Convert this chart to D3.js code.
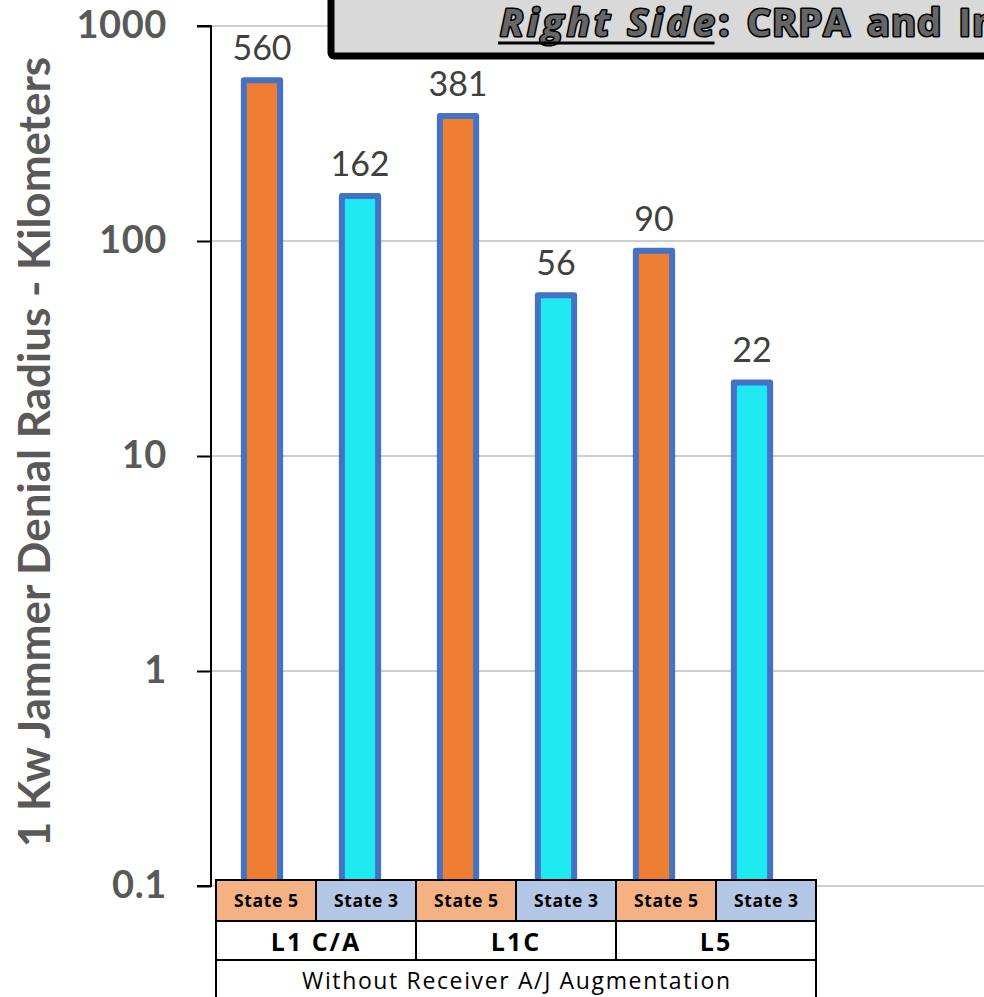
<!DOCTYPE html>
<html>
<head>
<meta charset="utf-8">
<script src="https://cdn.jsdelivr.net/npm/d3@7"></script>
<style>
  html, body { margin: 0; padding: 0; background: #fff; }
  svg { display: block; font-family: Lato, "Open Sans", sans-serif; }
</style>
</head>
<body>
<svg id="chart" width="984" height="997"></svg>
<script>
// Jammer denial radius by signal and jamming state (log scale, km)
const signals = ["L1 C/A", "L1C", "L5"];
const states = ["State 5", "State 3"];
const radiusKm = [560, 162, 381, 56, 90, 22];   // order: signal × state
const yTickValues = [0.1, 1, 10, 100, 1000];
const yTickLabels = ["0.1", "1", "10", "100", "1000"];
const groupLabel = "Without Receiver A/J Augmentation";
const yTitle = "1 Kw Jammer Denial Radius - Kilometers";
const titleItalic = "Right Side";
const titleRest = ": CRPA and Integrated Receiver A/J Augmentation";

const barIds = [];
signals.forEach(s => states.forEach(st => barIds.push(s + "|" + st)));
const barData = barIds.map((id, i) => ({ id, signal: id.split("|")[0], state: id.split("|")[1], value: radiusKm[i] }));

const svg = d3.select("#chart");

const y = d3.scaleLog().domain([0.1, 1000]).range([886, 26]);
const x = d3.scaleBand().domain(barIds).range([213, 801]).paddingInner(0.63).paddingOuter(0.315);
const tableX = d3.scaleBand().domain(barIds).range([216, 816]);
const axisX = 211;

// gridlines
svg.append("g")
  .selectAll("line")
  .data(yTickValues)
  .join("line")
  .attr("x1", axisX).attr("x2", 984)
  .attr("y1", d => y(d)).attr("y2", d => y(d))
  .attr("stroke", "#bfbfbf").attr("stroke-width", 1.5);

// y axis
const yAxis = svg.append("g")
  .attr("transform", `translate(${axisX},0)`)
  .call(d3.axisLeft(y).tickValues(yTickValues).tickSize(14).tickPadding(30)
    .tickFormat((d, i) => yTickLabels[i]));
yAxis.select(".domain").attr("stroke", "#000").attr("stroke-width", 2).attr("d", `M-14,${y(1000)}H0V${y(0.1)}H-14`);
yAxis.selectAll(".tick line").attr("stroke", "#000").attr("stroke-width", 2);
yAxis.selectAll(".tick text")
  .attr("fill", "#595959")
  .attr("font-size", 38).attr("font-weight", "bold")
  .attr("font-family", "Lato, sans-serif")
  .attr("letter-spacing", 0.6)
  .attr("dy", "0.29em");

// axis title
svg.append("text")
  .attr("transform", `translate(50,452) rotate(-90)`)
  .attr("text-anchor", "middle")
  .attr("fill", "#595959")
  .attr("font-size", 44).attr("font-weight", "bold")
  .text(yTitle);

// bars
svg.append("g")
  .selectAll("rect")
  .data(barData)
  .join("rect")
  .attr("x", d => x(d.id))
  .attr("y", d => y(d.value))
  .attr("width", x.bandwidth())
  .attr("height", d => y(0.1) - y(d.value))
  .attr("fill", d => d.state === "State 5" ? "#ed7d31" : "#1ee8f0")
  .attr("stroke", "#4472c4").attr("stroke-width", 6)
  .attr("stroke-linejoin", "round");

// value labels
svg.append("g")
  .selectAll("text")
  .data(barData)
  .join("text")
  .attr("x", d => x(d.id) + x.bandwidth() / 2)
  .attr("y", d => y(d.value) - 20)
  .attr("text-anchor", "middle")
  .attr("fill", "#404040")
  .attr("font-size", 34)
  .text(d => d.value);

// category table under the bars
const table = svg.append("g").attr("font-family", "'Open Sans', sans-serif");
table.selectAll("rect.state")
  .data(barData)
  .join("rect")
  .attr("class", "state")
  .attr("x", d => tableX(d.id)).attr("y", 880)
  .attr("width", tableX.bandwidth()).attr("height", 41)
  .attr("fill", d => d.state === "State 5" ? "#f4b183" : "#b4c7e7")
  .attr("stroke", "#000").attr("stroke-width", 2);
table.selectAll("text.state")
  .data(barData)
  .join("text")
  .attr("class", "state")
  .attr("x", d => tableX(d.id) + tableX.bandwidth() / 2).attr("y", 907)
  .attr("text-anchor", "middle")
  .attr("font-size", 17.5).attr("font-weight", "bold").attr("fill", "#000")
  .attr("textLength", 64).attr("lengthAdjust", "spacing")
  .text(d => d.state);

const groups = signals.map(s => ({ signal: s, ids: barIds.filter(id => id.startsWith(s + "|")) }));
table.selectAll("rect.sig")
  .data(groups)
  .join("rect")
  .attr("class", "sig")
  .attr("x", d => tableX(d.ids[0])).attr("y", 921)
  .attr("width", d => tableX.bandwidth() * d.ids.length).attr("height", 39)
  .attr("fill", "#fff")
  .attr("stroke", "#000").attr("stroke-width", 2);
table.selectAll("text.sig")
  .data(groups)
  .join("text")
  .attr("class", "sig")
  .attr("x", d => tableX(d.ids[0]) + tableX.bandwidth() * d.ids.length / 2).attr("y", 951)
  .attr("text-anchor", "middle")
  .attr("font-size", 25).attr("font-weight", "bold").attr("fill", "#000")
  .attr("letter-spacing", 2)
  .text(d => d.signal);

const tl = tableX.range()[0], tr = tableX.range()[1];
table.append("path")
  .attr("d", `M${tl},1000V960H${tr}V1000`)
  .attr("fill", "none").attr("stroke", "#000").attr("stroke-width", 2);
table.append("text")
  .attr("x", (tl + tr) / 2).attr("y", 989)
  .attr("text-anchor", "middle")
  .attr("font-size", 23).attr("fill", "#000")
  .attr("textLength", 428).attr("lengthAdjust", "spacing")
  .text(groupLabel);

// heading box
const head = svg.append("g").attr("font-family", "'Open Sans', sans-serif");
head.append("rect")
  .attr("x", 331).attr("y", -20).attr("width", 700).attr("height", 76)
  .attr("rx", 3)
  .attr("fill", "#d9d9d9").attr("stroke", "#000").attr("stroke-width", 7);
const ht = head.append("text")
  .attr("x", 500).attr("y", 36)
  .attr("font-size", 38).attr("font-weight", "bold")
  .attr("fill", "#666").attr("stroke", "#000").attr("stroke-width", 3.2)
  .attr("stroke-linejoin", "round")
  .attr("paint-order", "stroke");
const italicPart = ht.append("tspan").attr("font-style", "italic")
  .attr("letter-spacing", 4).text(titleItalic);
ht.append("tspan").attr("letter-spacing", 1.2).attr("word-spacing", 5).text(titleRest);
const ulen = italicPart.node().getComputedTextLength();
head.append("line")
  .attr("x1", 498).attr("x2", 496 + ulen)
  .attr("y1", 43).attr("y2", 43)
  .attr("stroke", "#000").attr("stroke-width", 3);
</script>
</body>
</html>
